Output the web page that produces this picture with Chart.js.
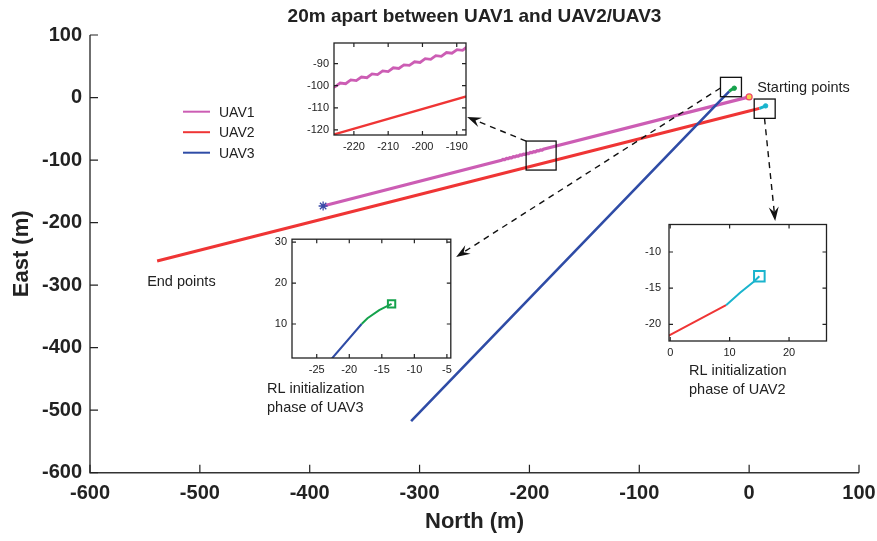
<!DOCTYPE html>
<html>
<head>
<meta charset="utf-8">
<script src="https://cdn.jsdelivr.net/npm/chart.js@4"></script>
<style>
  body { margin: 0; background: #fff; }
  #wrap { position: relative; width: 877px; height: 541px; }
  #wrap canvas { position: absolute; }
</style>
</head>
<body>
<div id="wrap">
  <canvas id="main" width="877" height="541" style="left:0;top:0"></canvas>
  <canvas id="inset-uav1" width="172" height="120" style="left:300px;top:36px"></canvas>
  <canvas id="inset-uav2" width="196" height="145" style="left:640px;top:215px"></canvas>
  <canvas id="inset-uav3" width="196" height="150" style="left:262px;top:232px"></canvas>
</div>
<script>
// trajectories, North / East in metres
const uav1North = [0, -187.3, -188.3, -189.9, -191.4, -193.0, -194.5, -196.1, -197.6, -199.2, -200.7,
  -202.3, -203.8, -205.4, -206.9, -208.5, -210.0, -211.6, -213.1, -214.7, -216.2, -217.8, -219.3,
  -220.9, -222.4, -224.0, -225.5, -387.8];
const uav1East = [1, -82.8, -84.0, -83.7, -85.3, -85.0, -86.7, -86.4, -88.1, -87.8, -89.5,
  -89.2, -90.8, -90.6, -92.2, -91.9, -93.6, -93.3, -95.0, -94.7, -96.4, -96.1, -97.7,
  -97.4, -99.1, -98.8, -100.5, -173.5];

const uav2InitNorth = [15.0, 14.1, 11.8, 9.4];
const uav2InitEast = [-13.35, -14.07, -15.6, -17.35];
const uav2North = [9.4, 0.0, -538.9];
const uav2East = [-17.35, -21.45, -261.5];

const uav3InitNorth = [-13.5, -15.4, -17.2, -18.1];
const uav3InitEast = [14.9, 13.4, 11.4, 10.0];
const uav3North = [-18.1, -22.6, -307.7];
const uav3East = [10.0, 1.7, -517.4];

const axisTicks = [-600, -500, -400, -300, -200, -100, 0, 100];

// zoom frames [n0, n1, e0, e1] and arrows [fromN, fromE, toN, toE]
const zoomFrames = [[-26.1, -7, 1.3, 32.3], [4.6, 23.7, -33.3, -2.4], [-203, -175.7, -116, -69.6]];
const zoomArrows = [[-203, -69.6, -256.7, -31.2], [-26.1, 15.2, -266.7, -255], [14, -33.3, 23.7, -197.5]];

const C1 = "#cc5db4", C2 = "#ef3535", C3 = "#2f4ca6", CG = "#15a24c", CC = "#1ab4cd";
const INK = "#222";

Chart.defaults.font.family = '"Liberation Sans", Arial, Helvetica, sans-serif';

function track(north, east, color, width) {
  return {
    data: north.map((n, i) => ({ x: n, y: east[i] })),
    showLine: true, borderColor: color, borderWidth: width,
    pointRadius: 0, tension: 0, fill: false,
  };
}

function marker(north, east, style, r, stroke, fill, w) {
  return {
    data: [{ x: north, y: east }], pointStyle: style, pointRadius: r,
    borderColor: stroke, backgroundColor: fill, pointBorderWidth: w, showLine: false,
  };
}

// keep the plot box where it is: no extra room for overhanging tick labels
function fixSize(prop, value) {
  return (s) => {
    s[prop] = value;
    s.paddingLeft = s.paddingRight = s.paddingTop = s.paddingBottom = 0;
  };
}

function inwardTicks(chart, len, allSides) {
  const { ctx, chartArea: a, scales: { x, y } } = chart;
  ctx.save();
  ctx.strokeStyle = INK;
  ctx.lineWidth = 1.2;
  ctx.beginPath();
  x.ticks.forEach((t) => {
    const px = x.getPixelForValue(t.value);
    ctx.moveTo(px, a.bottom); ctx.lineTo(px, a.bottom - len);
    if (allSides) { ctx.moveTo(px, a.top); ctx.lineTo(px, a.top + len); }
  });
  y.ticks.forEach((t) => {
    const py = y.getPixelForValue(t.value);
    ctx.moveTo(a.left, py); ctx.lineTo(a.left + len, py);
    if (allSides) { ctx.moveTo(a.right, py); ctx.lineTo(a.right - len, py); }
  });
  ctx.stroke();
  ctx.restore();
}

function arrow(ctx, x0, y0, x1, y1) {
  const ang = Math.atan2(y1 - y0, x1 - x0);
  const L = 12, W = 5;
  const bx = x1 - Math.cos(ang) * L, by = y1 - Math.sin(ang) * L;
  ctx.save();
  ctx.strokeStyle = "#111";
  ctx.lineWidth = 1.4;
  ctx.setLineDash([6, 5]);
  ctx.beginPath();
  ctx.moveTo(x0, y0);
  ctx.lineTo(bx + Math.cos(ang) * 4, by + Math.sin(ang) * 4);
  ctx.stroke();
  ctx.setLineDash([]);
  ctx.fillStyle = "#111";
  ctx.beginPath();
  ctx.moveTo(x1, y1);
  ctx.lineTo(bx - Math.sin(ang) * W - Math.cos(ang) * 2, by + Math.cos(ang) * W - Math.sin(ang) * 2);
  ctx.lineTo(bx + Math.cos(ang) * 3, by + Math.sin(ang) * 3);
  ctx.lineTo(bx + Math.sin(ang) * W - Math.cos(ang) * 2, by - Math.cos(ang) * W - Math.sin(ang) * 2);
  ctx.closePath();
  ctx.fill();
  ctx.restore();
}

const mainDecor = {
  id: "mainDecor",
  afterDatasetsDraw(chart) {
    const { ctx, chartArea: a, scales: { x, y } } = chart;

    // axis lines, left and bottom only
    ctx.save();
    ctx.strokeStyle = "#333";
    ctx.lineWidth = 1.4;
    ctx.beginPath();
    ctx.moveTo(a.left, a.top); ctx.lineTo(a.left, a.bottom); ctx.lineTo(a.right, a.bottom);
    ctx.stroke();
    ctx.restore();
    inwardTicks(chart, 8, false);

    // zoom frames
    ctx.save();
    ctx.strokeStyle = "#111";
    ctx.lineWidth = 1.3;
    zoomFrames.forEach(([n0, n1, e0, e1]) => {
      const px0 = x.getPixelForValue(n0), px1 = x.getPixelForValue(n1);
      const py0 = y.getPixelForValue(e1), py1 = y.getPixelForValue(e0);
      ctx.strokeRect(px0, py0, px1 - px0, py1 - py0);
    });
    ctx.restore();

    zoomArrows.forEach(([n0, e0, n1, e1]) => {
      arrow(ctx, x.getPixelForValue(n0), y.getPixelForValue(e0), x.getPixelForValue(n1), y.getPixelForValue(e1));
    });

    // legend
    ctx.save();
    ctx.font = '14px "Liberation Sans", Arial, sans-serif';
    ctx.textBaseline = "middle";
    ctx.fillStyle = INK;
    [["UAV1", C1], ["UAV2", C2], ["UAV3", C3]].forEach(([label, color], i) => {
      const yy = 111.7 + i * 20.5;
      ctx.strokeStyle = color;
      ctx.lineWidth = 2;
      ctx.beginPath();
      ctx.moveTo(183, yy); ctx.lineTo(210, yy);
      ctx.stroke();
      ctx.fillText(label, 219, yy + 1);
    });

    // notes
    ctx.font = '14.5px "Liberation Sans", Arial, sans-serif';
    ctx.fillText("Starting points", x.getPixelForValue(7.3), y.getPixelForValue(15));
    ctx.fillText("End points", x.getPixelForValue(-548), y.getPixelForValue(-295));
    ctx.fillText("RL initialization", 267, 389);
    ctx.fillText("phase of UAV3", 267, 408);
    ctx.fillText("RL initialization", 689, 371);
    ctx.fillText("phase of UAV2", 689, 390);

    // title and axis titles
    const cx = (a.left + a.right) / 2;
    ctx.textAlign = "center";
    ctx.font = 'bold 19px "Liberation Sans", Arial, sans-serif';
    ctx.fillText("20m apart between UAV1 and UAV2/UAV3", cx, 17);
    ctx.font = 'bold 22px "Liberation Sans", Arial, sans-serif';
    ctx.fillText("North (m)", cx, 522);
    ctx.translate(22, (a.top + a.bottom) / 2);
    ctx.rotate(-Math.PI / 2);
    ctx.fillText("East (m)", 0, 0);
    ctx.restore();
  },
};

// topmost dataset first
new Chart(document.getElementById("main"), {
  type: "scatter",
  data: {
    datasets: [
      marker(uav1North[0], uav1East[0], "circle", 3, "#ee4466", "#f5d24a", 1.2),
      marker(uav1North[uav1North.length - 1], uav1East[uav1East.length - 1], "star", 4.5, "#3a4aa8", "#3a4aa8", 1.3),
      marker(uav2InitNorth[0], uav2InitEast[0], "circle", 2.2, CC, CC, 1),
      marker(uav3InitNorth[0], uav3InitEast[0], "circle", 2.2, CG, CG, 1),
      track(uav2InitNorth, uav2InitEast, CC, 3),
      track(uav3InitNorth, uav3InitEast, CG, 3),
      track(uav3North, uav3East, C3, 2.6),
      track(uav2North, uav2East, C2, 3),
      track(uav1North, uav1East, C1, 3.2),
    ],
  },
  options: {
    responsive: false,
    animation: false,
    layout: { padding: { left: 0, right: 18, top: 35, bottom: 0 } },
    plugins: { legend: { display: false }, tooltip: { enabled: false } },
    scales: {
      x: {
        min: axisTicks[0], max: axisTicks[axisTicks.length - 1],
        grid: { display: false, drawTicks: false }, border: { display: false },
        ticks: { stepSize: 100, maxRotation: 0, padding: 9, color: INK, font: { size: 20, weight: "bold" } },
        afterFit: fixSize("height", 68.3),
      },
      y: {
        min: axisTicks[0], max: axisTicks[axisTicks.length - 1],
        grid: { display: false, drawTicks: false }, border: { display: false },
        ticks: { stepSize: 100, padding: 8, color: INK, font: { size: 20, weight: "bold" } },
        afterFit: fixSize("width", 90),
      },
    },
  },
  plugins: [mainDecor],
});

const insetFrame = {
  id: "insetFrame",
  beforeDraw(chart) {
    const { ctx, chartArea: a } = chart;
    ctx.save();
    ctx.fillStyle = "#fff";
    ctx.fillRect(a.left, a.top, a.right - a.left, a.bottom - a.top);
    ctx.restore();
  },
  afterDatasetsDraw(chart) {
    const { ctx, chartArea: a } = chart;
    ctx.save();
    ctx.strokeStyle = INK;
    ctx.lineWidth = 1.3;
    ctx.strokeRect(a.left, a.top, a.right - a.left, a.bottom - a.top);
    ctx.restore();
    inwardTicks(chart, 4, true);
  },
};

function insetChart(id, datasets, xr, yr, pad, xh, yw, ypad) {
  return new Chart(document.getElementById(id), {
    type: "scatter",
    data: { datasets },
    options: {
      responsive: false,
      animation: false,
      layout: { padding: pad },
      plugins: { legend: { display: false }, tooltip: { enabled: false } },
      scales: {
        x: {
          min: xr[0], max: xr[1],
          grid: { display: false, drawTicks: false }, border: { display: false },
          ticks: { stepSize: xr[2], includeBounds: false, maxRotation: 0, autoSkip: false, padding: 5, color: INK, font: { size: 11 } },
          afterFit: fixSize("height", xh),
        },
        y: {
          min: yr[0], max: yr[1],
          grid: { display: false, drawTicks: false }, border: { display: false },
          ticks: { stepSize: yr[2], includeBounds: false, autoSkip: false, padding: ypad, color: INK, font: { size: 11 } },
          afterFit: fixSize("width", yw),
        },
      },
    },
    plugins: [insetFrame],
  });
}

insetChart("inset-uav1",
  [track(uav2North, uav2East, C2, 2.4), track(uav1North, uav1East, C1, 2.8)],
  [-225.8, -187.3, 10], [-122.3, -80.7, 10],
  { left: 0, right: 6, top: 7, bottom: 3 }, 18, 34, 5);

insetChart("inset-uav2",
  [
    marker(uav2InitNorth[0], uav2InitEast[0], "rect", 7.5, CC, "rgba(0,0,0,0)", 2),
    track(uav2InitNorth, uav2InitEast, CC, 2),
    track(uav2North, uav2East, C2, 2),
  ],
  [-0.2, 26.3, 10], [-22.3, -6.2, 5],
  { left: 0, right: 6, top: 8, bottom: 3 }, 16, 29, 8);

insetChart("inset-uav3",
  [
    marker(uav3InitNorth[0], uav3InitEast[0], "rect", 5.2, CG, "rgba(0,0,0,0)", 2),
    track(uav3InitNorth, uav3InitEast, CG, 2),
    track(uav3North, uav3East, C3, 2),
  ],
  [-28.8, -4.4, 5], [1.7, 30.7, 10],
  { left: 0, right: 6, top: 7, bottom: 0 }, 24, 30, 5);
</script>
</body>
</html>
